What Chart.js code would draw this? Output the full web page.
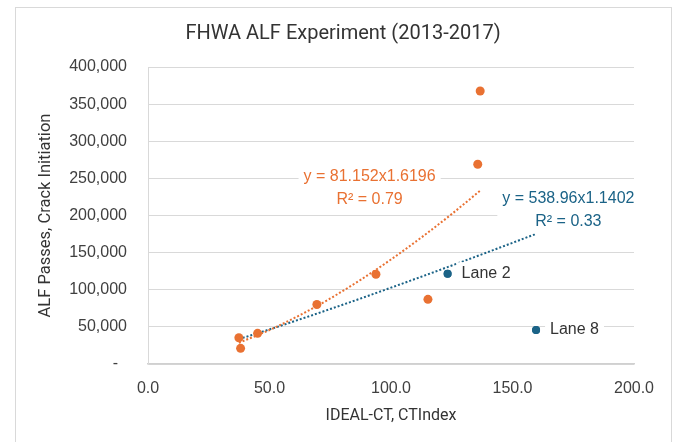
<!DOCTYPE html>
<html>
<head>
<meta charset="utf-8">
<script src="https://cdn.jsdelivr.net/npm/chart.js@4"></script>
<style>
  html, body { margin: 0; padding: 0; background: #fff; overflow: hidden; }
  #frame { position: absolute; left: 15px; top: 7px; width: 655px; height: 460px; border: 1px solid #d9d9d9; }
  #wrap { position: absolute; left: 0; top: 0; width: 673px; height: 442px; }
</style>
</head>
<body>
<div id="frame"></div>
<div id="wrap"><canvas id="chart"></canvas></div>
<script>
const chartTitle = 'FHWA ALF Experiment (2013-2017)'
const xTitle = 'IDEAL-CT, CTIndex'
const yTitle = 'ALF Passes, Crack Initiation'

// measured sections
const alfX = [37.4, 38.1, 45.1, 69.5, 93.8, 115.2, 135.7, 136.7]
const alfY = [35400, 21100, 41300, 80100, 120800, 87100, 269000, 367700]

// lanes 2 and 8
const laneNames = ['Lane 2', 'Lane 8']
const laneX = [123.3, 159.7]
const laneY = [121600, 45800]

// power trendlines as shown on the chart
const orangeTrendX = [37.4, 50, 62.5, 75, 87.5, 100, 112.5, 125, 137]
const orangeTrendY = [28600, 45800, 65800, 88300, 113400, 140800, 170400, 202000, 234300]
const blueTrendX = [37.4, 50, 75, 100, 125, 150, 159.7]
const blueTrendY = [33500, 46600, 74000, 102800, 132600, 163200, 175300]

const orangeEq = ['y = 81.152x1.6196', 'R\u00b2 = 0.79']
const blueEq = ['y = 538.96x1.1402', 'R\u00b2 = 0.33']
const orangeEqAt = [91.2, 236400]
const blueEqAt = [173.0, 206700]

const ORANGE = '#E97132'
const BLUE = '#1B6387'
const TEXT = '#404040'

const toPts = (xs, ys) => xs.map((x, i) => ({ x, y: ys[i] }))

function labelBox(ctx, lines, cx, cy, color, align) {
  ctx.save()
  ctx.font = '16px "Liberation Sans", Arial, sans-serif'
  const lh = 23
  const w = Math.max(...lines.map(l => ctx.measureText(l).width))
  const h = lh * lines.length
  const left = align === 'left' ? cx : cx - w / 2
  ctx.fillStyle = '#fff'
  ctx.fillRect(left - 5, cy - h / 2, w + 10, h)
  ctx.fillStyle = color
  ctx.textBaseline = 'middle'
  ctx.textAlign = align === 'left' ? 'left' : 'center'
  lines.forEach((l, i) => {
    ctx.fillText(l, align === 'left' ? left : cx, cy - h / 2 + lh * (i + 0.5))
  })
  ctx.restore()
}

const labels = {
  id: 'labels',
  afterDatasetsDraw(chart) {
    const { ctx, scales: { x, y } } = chart
    labelBox(ctx, orangeEq, x.getPixelForValue(orangeEqAt[0]), y.getPixelForValue(orangeEqAt[1]), ORANGE)
    labelBox(ctx, blueEq, x.getPixelForValue(blueEqAt[0]), y.getPixelForValue(blueEqAt[1]), BLUE)
    const meta = chart.getDatasetMeta(1)
    meta.data.forEach((pt, i) => {
      labelBox(ctx, [laneNames[i]], pt.x + 14, pt.y, '#333', 'left')
    })
    // points above their label boxes
    meta.data.forEach(pt => pt.draw(ctx))
  },
  afterDraw(chart) {
    const { ctx } = chart
    ctx.save()
    ctx.font = '20px Roboto, sans-serif'
    ctx.fillStyle = '#333'
    ctx.textAlign = 'center'
    ctx.textBaseline = 'middle'
    ctx.fillText(chartTitle, 343, 34)
    ctx.restore()
  }
}

new Chart(document.getElementById('chart'), {
  type: 'scatter',
  data: {
    datasets: [
      {
        label: 'ALF',
        data: toPts(alfX, alfY),
        backgroundColor: ORANGE,
        borderWidth: 0,
        pointRadius: 4.5,
        order: 0,
      },
      {
        label: 'Lanes',
        data: toPts(laneX, laneY),
        backgroundColor: BLUE,
        borderWidth: 0,
        pointRadius: 4,
        order: 0,
      },
      {
        label: 'Power (ALF)',
        data: toPts(orangeTrendX, orangeTrendY),
        showLine: true,
        borderColor: ORANGE,
        borderWidth: 2,
        borderDash: [2, 2],
        pointRadius: 0,
        cubicInterpolationMode: 'monotone',
        order: 1,
      },
      {
        label: 'Power (all)',
        data: toPts(blueTrendX, blueTrendY),
        showLine: true,
        borderColor: BLUE,
        borderWidth: 2,
        borderDash: [2, 2],
        pointRadius: 0,
        cubicInterpolationMode: 'monotone',
        order: 1,
      }
    ]
  },
  options: {
    responsive: true,
    maintainAspectRatio: false,
    animation: false,
    layout: { padding: { left: 0, right: 39, top: 67, bottom: 0 } },
    plugins: {
      legend: { display: false },
      tooltip: { enabled: false },
      title: { display: false }
    },
    scales: {
      x: {
        type: 'linear',
        min: 0,
        max: 200,
        afterFit: axis => { axis.height = 78 },
        ticks: {
          stepSize: 50,
          padding: 15,
          color: TEXT,
          font: { size: 16, family: '"Liberation Sans", Arial' },
          callback: v => v.toFixed(1)
        },
        grid: { display: false, drawTicks: false },
        border: { display: true, color: '#d0d0d0', width: 1.5 },
        title: {
          display: true,
          text: xTitle,
          color: '#333',
          font: { size: 16, family: 'Roboto' },
          padding: { top: 0, bottom: 16 }
        }
      },
      y: {
        min: 0,
        max: 400000,
        afterFit: axis => { axis.width = 148 },
        ticks: {
          stepSize: 50000,
          padding: 21,
          color: TEXT,
          font: { size: 16, family: '"Liberation Sans", Arial' },
          callback: v => v === 0 ? '-  ' : v.toLocaleString('en-US')
        },
        grid: { color: '#d9d9d9', lineWidth: 1, drawTicks: false },
        border: { display: true, color: '#d9d9d9', width: 1 },
        title: {
          display: true,
          text: yTitle,
          color: '#333',
          font: { size: 16.5, family: 'Roboto' },
          padding: { top: 36, bottom: 0 }
        }
      }
    }
  },
  plugins: [labels]
})
</script>
</body>
</html>
